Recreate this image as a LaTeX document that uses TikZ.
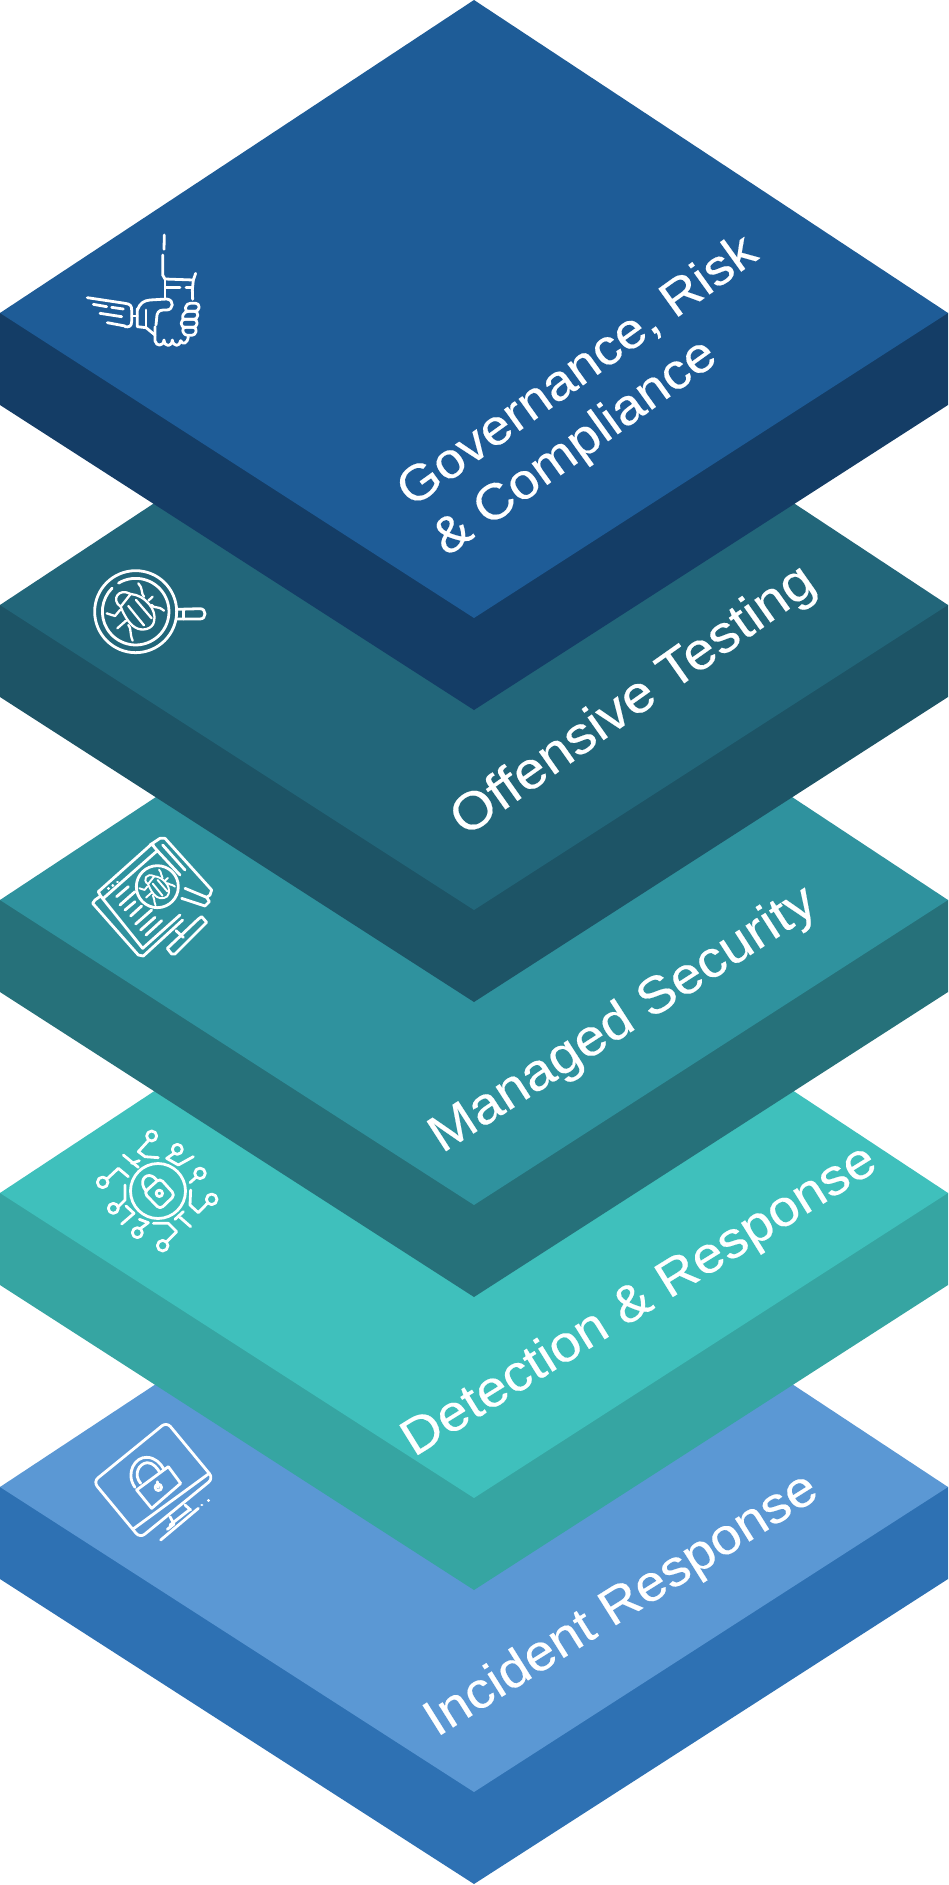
\documentclass[tikz,border=0pt]{standalone}
\usepackage{fontspec}
\setmainfont{Liberation Sans}
\newfontfamily\labelfont[FakeStretch=1.08,FakeBold=0.3]{Liberation Sans}
\definecolor{topA}{HTML}{1E5C97}\definecolor{sideA}{HTML}{143D66}
\definecolor{topB}{HTML}{22667A}\definecolor{sideB}{HTML}{1D5466}
\definecolor{topC}{HTML}{2F929E}\definecolor{sideC}{HTML}{26717A}
\definecolor{topD}{HTML}{3FC0BC}\definecolor{sideD}{HTML}{36A5A2}
\definecolor{topE}{HTML}{5B98D4}\definecolor{sideE}{HTML}{2E71B3}
\tikzset{
  icon/.style={draw=white,line width=2.8pt,line cap=round,line join=round},
  fineicon/.style={draw=white,line width=2.3pt,line cap=round,line join=round},
  icontop/.style={x=0.33333pt,y=-0.33333pt},
  slabel/.style={text=white,align=left,inner sep=0pt}
}
\newcommand{\lsize}[1]{\labelfont\fontsize{#1}{60}\selectfont}
\newcommand{\slab}[3]{%
  \fill[#2] (0,#1) -- (474,#1-100) -- (948,#1) -- (948,#1+92) -- (474,#1+397) -- (0,#1+92) -- cycle;
  \fill[#3] (474,#1-313) -- (948,#1) -- (474,#1+305) -- (0,#1) -- cycle;
}
\newcommand{\bugpaths}{%
  \draw[fineicon] (152,170) .. controls (122,150) and (145,112) .. (182,132);
  \draw[fineicon] (152,170) -- (182,132) .. controls (225,135) and (262,180) .. (252,215)
     .. controls (248,238) and (215,245) .. (195,232) .. controls (175,220) and (160,190) .. (152,170);
  \draw[fineicon] (175,168) -- (222,226);
  \draw[fineicon] (198,150) -- (245,205);
  \draw[fineicon] (205,100) .. controls (220,115) and (212,130) .. (222,140);
  \draw[fineicon] (282,182) .. controls (262,165) and (255,178) .. (245,165);
  \draw[fineicon] (248,140) -- (235,152);
  \draw[fineicon] (110,190) -- (135,198) -- (150,180);
  \draw[fineicon] (142,235) -- (168,212);
  \draw[fineicon] (188,272) .. controls (178,250) and (185,235) .. (175,225);
}
\begin{document}
\begin{tikzpicture}[x=1pt,y=-1pt]
\useasboundingbox (0,0) rectangle (948,1885);
\fill[white] (0,0) rectangle (948,1885);
\slab{1487}{sideE}{topE}
\slab{1193}{sideD}{topD}
\slab{900}{sideC}{topC}
\slab{605}{sideB}{topB}
\slab{313}{sideA}{topA}

\node[slabel,font=\lsize{50},rotate=35.7] (grc) at (596,397) {Governance, Risk\\\& Compliance};
\node[slabel,font=\lsize{52.3},rotate=35.2,anchor=base] (offensive) at (642,713) {Offensive Testing};
\node[slabel,font=\lsize{51.6},rotate=32.8,anchor=base] (managed) at (631,1032) {Managed Security};
\node[slabel,font=\lsize{51},rotate=31.8,anchor=base] (detection) at (647,1313) {Detection \& Response};
\node[slabel,font=\lsize{50.7},rotate=32.1,anchor=base] (incident) at (629,1617) {Incident Response};

% handshake
\begin{scope}[shift={(60,210)},icontop]
  \draw[icon] (313,75) -- (312,118);
  \draw[icon] (308,135) -- (308,195) -- (315,207) -- (400,210) -- (407,190);
  \draw[icon] (400,210) -- (397,240) -- (398,268);
  \draw[icon] (315,207) -- (315,265);
  \draw[icon] (318,232) -- (360,232);
  \draw[icon] (378,232) -- (395,232);
  \draw[icon] (232,300) .. controls (240,280) and (250,272) .. (270,270) -- (320,267)
     .. controls (345,270) and (340,300) .. (320,300) -- (310,300) .. controls (295,300) and (290,310) .. (290,325) -- (288,345);
  \draw[icon] (232,296) -- (232,350) -- (258,353) -- (285,375);
  \draw[icon] (258,300) -- (258,353);
  \draw[icon] (285,350) -- (285,392) .. controls (288,410) and (310,410) .. (312,390)
     .. controls (314,412) and (335,412) .. (337,390) .. controls (340,412) and (360,410) .. (362,392)
     .. controls (368,405) and (382,402) .. (385,380);
  \draw[icon,rounded corners=3.5pt] (380,280) -- (418,280) -- (416,304) -- (374,304) -- cycle;
  \draw[icon,rounded corners=3.5pt] (374,304) -- (414,304) -- (412,328) -- (364,328) -- cycle;
  \draw[icon,rounded corners=3.5pt] (364,328) -- (412,328) -- (410,352) -- (364,352) -- cycle;
  \draw[icon,rounded corners=3.5pt] (366,352) -- (410,352) -- (406,376) -- (372,376) -- cycle;
  \draw[icon] (82,263) -- (195,280) .. controls (212,282) and (215,288) .. (215,300) -- (215,335) .. controls (215,350) and (205,352) .. (195,350);
  \draw[icon] (100,283) -- (140,290);
  \draw[icon] (155,292) -- (190,297);
  \draw[icon] (120,310) -- (185,320);
  \draw[icon] (142,338) -- (195,348);
  \draw[icon] (215,318) -- (232,318);
\end{scope}

% magnifier with bug
\begin{scope}[shift={(70,550)},icontop]
  \draw[icon] (197,185) circle [radius=41pt];
  \draw[icon] (197,185) ++(121:33.3pt) arc [start angle=121,end angle=-225,radius=33.3pt];
  \draw[icon] (322,178) -- (390,176) .. controls (410,176) and (410,207) .. (390,207) -- (322,207);
  \draw[icon] (340,178) -- (340,207);
  \bugpaths
\end{scope}

% browser with bug
\begin{scope}[shift={(70,820)},icontop]
  \draw[icon] (85,215) -- (245,72) -- (252,78);
  \draw[icon] (85,215) -- (92,228) -- (75,240) -- (68,250) -- (205,405) -- (220,408) -- (338,300);
  \draw[icon] (92,228) -- (218,385) -- (330,285);
  \draw[icon] (100,235) -- (262,92) -- (330,165);
  \draw[icon] (240,75) -- (270,55) -- (285,55) -- (425,210) -- (420,225) -- (410,232);
  \draw[icon] (245,72) -- (262,92);
  \draw[icon] (278,75) -- (345,150);
  \draw[icon] (345,205) -- (410,232) -- (418,245) -- (405,258) -- (335,235);
  \draw[icon] (262,200) circle [radius=21pt];
  \draw[icon] (140,230) -- (175,200);
  \draw[icon] (150,255) -- (195,215);
  \draw[icon] (165,270) -- (195,245);
  \draw[icon] (182,288) -- (215,258);
  \draw[icon] (197,312) -- (245,270);
  \draw[icon] (212,330) -- (255,292);
  \draw[icon] (228,345) -- (275,302);
  \draw[icon] (115,205) -- (116,205);
  \draw[icon] (128,197) -- (129,197);
  \draw[icon] (142,186) -- (143,186);
  \draw[icon] (292,385) -- (385,297) -- (395,290) -- (410,307) -- (315,402) -- (305,402) -- cycle;
  \draw[icon] (318,332) -- (340,352);
  \begin{scope}[shift={(140,87)},scale=0.62,fineicon/.append style={line width=1.9pt}]
    \bugpaths
  \end{scope}
\end{scope}

% circuit with lock
\begin{scope}[shift={(70,1110)},icontop]
  \draw[icon] (264,243) circle [radius=27.5pt];
  \draw[icon,rounded corners=4pt] (222,248) -- (270,205) -- (315,255) -- (270,298) -- cycle;
  \draw[icon] (228,243) .. controls (205,215) and (225,190) .. (245,198) .. controls (255,202) and (258,210) .. (262,212);
  \draw[icon] (268,250) circle [radius=3.2pt];
  \draw[icon] (245,78) circle [radius=5pt];
  \draw[icon] (235,92) -- (205,125) -- (225,140) -- (265,143);
  \draw[icon] (322,118) circle [radius=5pt];
  \draw[icon] (312,130) -- (290,145) -- (325,165) -- (370,140);
  \draw[icon] (390,190) circle [radius=5.3pt];
  \draw[icon] (378,202) -- (360,218);
  \draw[icon] (425,268) circle [radius=5.3pt];
  \draw[icon] (412,280) -- (385,308) -- (360,285) -- (362,240);
  \draw[icon] (330,322) -- (362,350);
  \draw[icon] (340,305) -- (315,328);
  \draw[icon] (278,407) circle [radius=5.3pt];
  \draw[icon] (290,395) -- (320,365) -- (295,340) -- (250,340);
  \draw[icon] (202,368) circle [radius=5pt];
  \draw[icon] (212,355) -- (235,338) -- (208,328);
  \draw[icon] (155,342) -- (192,310) -- (168,288);
  \draw[icon] (130,295) circle [radius=5pt];
  \draw[icon] (145,290) -- (165,270) -- (165,225);
  \draw[icon] (98,217) circle [radius=5.3pt];
  \draw[icon] (113,205) -- (145,175) -- (175,200);
  \draw[icon] (160,135) -- (205,172);
  \draw[icon] (185,160) -- (208,152);
\end{scope}

% monitor with lock
\begin{scope}[shift={(70,1400)},icontop]
  \draw[icon,rounded corners=6pt] (290,66) -- (430,235) -- (210,414) -- (70,245) -- cycle;
  \draw[icon] (192,385) -- (415,222);
  \draw[icon] (200,270) -- (295,200) -- (332,250) -- (245,325) -- cycle;
  \draw[icon] (195,262) .. controls (165,220) and (195,170) .. (230,172) .. controls (255,172) and (272,190) .. (282,208);
  \draw[icon] (212,250) .. controls (190,225) and (205,190) .. (232,188) .. controls (250,188) and (262,205) .. (270,218);
  \draw[icon] (265,262) circle [radius=3.2pt];
  \draw[icon] (265,262) -- (262,245);
  \draw[icon] (300,350) -- (312,372) -- (292,388);
  \draw[icon] (345,315) -- (362,330);
  \draw[icon] (300,375) -- (360,328);
  \draw[icon] (272,420) -- (385,325);
  \draw[icon] (395,315) -- (396,315);
  \draw[icon] (415,302) -- (416,302);
\end{scope}
\end{tikzpicture}
\end{document}
